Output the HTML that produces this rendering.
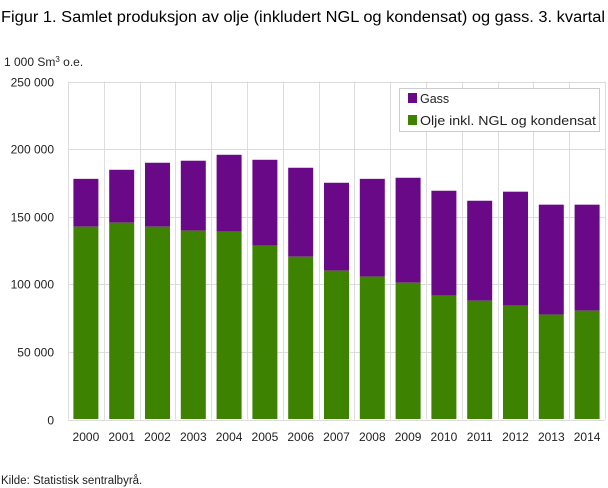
<!DOCTYPE html>
<html><head><meta charset="utf-8"><style>
body{margin:0;background:#fff;}
svg{display:block;font-family:"Liberation Sans","DejaVu Sans",sans-serif;}
</style></head><body>
<svg width="608" height="488" viewBox="0 0 608 488" xmlns="http://www.w3.org/2000/svg">
<text x="1" y="22" font-size="15.5" fill="#000" textLength="604" lengthAdjust="spacingAndGlyphs">Figur 1. Samlet produksjon av olje (inkludert NGL og kondensat) og gass. 3. kvartal</text>
<text x="4" y="66" font-size="12" fill="#222">1 000 Sm<tspan font-size="8" dy="-4">3</tspan><tspan dy="4"> o.e.</tspan></text>
<g id="grid" stroke="#dcdcdc" stroke-width="1"></g>
<g id="bars"></g>
<g id="labels" font-size="12" fill="#222"></g>
<rect x="399.5" y="88.5" width="200" height="43" fill="#fff" stroke="#ccc"/>
<rect x="408" y="93" width="9" height="10" fill="#6a0987"/>
<text x="420" y="103" font-size="12.5" fill="#222">Gass</text>
<rect x="408" y="115" width="9" height="10" fill="#3d8200"/>
<text x="420" y="125" font-size="12.5" fill="#222" textLength="176" lengthAdjust="spacingAndGlyphs">Olje inkl. NGL og kondensat</text>
<text x="1" y="484" font-size="11.5" fill="#222">Kilde: Statistisk sentralbyrå.</text>
<script>
var tot=[178,184.7,189.9,191.4,195.8,192.1,186.2,175.1,178,178.8,169.2,161.8,168.5,158.9,158.9];
var oil=[142.6,145.6,142.6,139.7,138.9,128.6,120.4,110.1,105.7,101.2,91.6,87.9,84.2,77.6,80.5];
var L=68,R=605,T=81.5,B=419.5,cw=(R-L)/15;
function y(v){return B-(B-T)*v/250;}
var ns="http://www.w3.org/2000/svg",g=document.getElementById('grid'),b=document.getElementById('bars'),lb=document.getElementById('labels');
function el(p,t,a,txt){var e=document.createElementNS(ns,t);for(var k in a)e.setAttribute(k,a[k]);if(txt)e.textContent=txt;p.appendChild(e);}
for(var i=0;i<=5;i++){var yy=Math.round(y(i*50))+0.5;el(g,'line',{x1:L,x2:R,y1:yy,y2:yy});
el(lb,'text',{x:54,y:yy+4,'text-anchor':'end'},i==0?'0':(i*50)+' 000');}
for(var i=0;i<=15;i++){var xx=Math.round(L+cw*i)+0.5;el(g,'line',{x1:xx,x2:xx,y1:T,y2:B});}
for(var i=0;i<15;i++){var cx=L+cw*(i+0.5);
el(b,'rect',{x:cx-12.5,y:y(tot[i]),width:25,height:y(oil[i])-y(tot[i]),fill:'#6a0987'});
el(b,'rect',{x:cx-12.5,y:y(oil[i]),width:25,height:B-0.5-y(oil[i]),fill:'#3d8200'});
el(lb,'text',{x:cx,y:441,'text-anchor':'middle'},String(2000+i));}
</script>
</svg>
</body></html>
